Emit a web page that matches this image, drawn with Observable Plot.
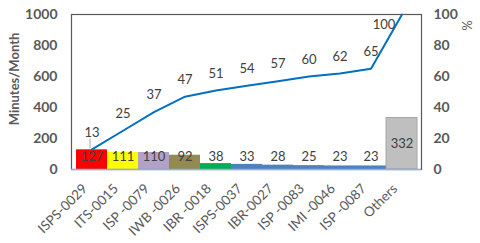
<!DOCTYPE html>
<html><head><meta charset="utf-8">
<script src="https://cdn.jsdelivr.net/npm/d3@7"></script>
<script src="https://cdn.jsdelivr.net/npm/@observablehq/plot@0.6"></script>
<style>body{margin:0;background:#fff}</style>
</head><body><div id="chart"></div>
<script>
const categories = ["ISPS-0029","ITS-0015","ISP -0079","IWB -0026","IBR -0018","ISPS-0037","IBR-0027","ISP -0083","IMI -0046","ISP -0087","Others"];
const minutes = [127,111,110,92,38,33,28,25,23,23,332];
const cumPercent = [13,25,37,47,51,54,57,60,62,65,100];
const barColors = ["#ff0000","#ffff00","#b3a2c7","#938953","#00b050","#4f81bd","#4f81bd","#4f81bd","#4f81bd","#4f81bd","#bfbfbf"];
const leftTicks = [0,200,400,600,800,1000];
const rightTicks = [0,20,40,60,80,100];

const data = categories.map((c,i)=>({c, v:minutes[i], p:cumPercent[i], color:barColors[i], i}));
const font = "Lato, 'Open Sans', sans-serif";

const chart = Plot.plot({
  width: 480, height: 243,
  marginTop: 14, marginBottom: 74, marginLeft: 71, marginRight: 59,
  style: {fontFamily: font, background: "#fff"},
  x: {domain: categories, padding: 0},
  y: {domain: [0,1000]},
  marks: [
    Plot.barY(data, {x:"c", y:"v", fill:"color", stroke: d => d.c === "Others" ? "#a6a6a6" : "none", strokeWidth: 1}),
    Plot.frame({stroke:"#595959", strokeWidth:1.2}),
    Plot.ruleY([0], {stroke:"#8eb4e3", strokeWidth:1.5}),
    Plot.lineY(data, {x:"c", y: d => d.p*10, stroke:"#0070c0", strokeWidth:2}),
    Plot.link(data.filter(d=>d.i===0), {x1:"c", x2:"c", y1: d=>d.p*10+8, y2: d=>d.p*10+70, dx:-2, stroke:"#a6a6a6", strokeWidth:1}),
    Plot.text(data.filter(d=>d.p<100), {x:"c", y: d=>d.p*10, text: d=>String(d.p), dy:-17, fill:"#404040", fontSize:13, lineAnchor:"middle", fontFamily: font}),
    Plot.text(data.filter(d=>d.p===100), {x:"c", y: d=>d.p*10, text: d=>String(d.p), dx:-18, dy:10, fill:"#404040", fontSize:13, lineAnchor:"middle", fontFamily: font}),
    Plot.text(data, {x:"c", y: d => d.v > 200 ? d.v/2 : 84, text: d=>String(d.v), fill:"#404040", fontSize:13, fontFamily: font}),
    Plot.axisY(leftTicks, {anchor:"left", tickSize:0, tickPadding:14, tickFormat: d=>String(d), fontSize:14, fontWeight:"bold", fill:"#595959", label:null}),
    Plot.axisY(rightTicks.map(t=>t*10), {anchor:"right", tickSize:0, tickPadding:12, tickFormat: d=>String(d/10), fontSize:14, fontWeight:"bold", fill:"#595959", textAnchor:"start", label:null}),
    Plot.axisX({tickRotate:-45, tickSize:0, tickPadding:12, dx:-7, dy:5, fontSize:13.5, fill:"#595959", label:null}),
    Plot.text(["Minutes/Month"], {frameAnchor:"left", dx:-57, dy:-13, rotate:-90, textAnchor:"middle", lineAnchor:"middle", fontSize:13, fontWeight:"bold", fill:"#595959", fontFamily: font}),
    Plot.text(["%"], {frameAnchor:"top-right", dx:45, dy:11, rotate:90, textAnchor:"middle", lineAnchor:"middle", fontSize:13, fill:"#595959", fontFamily: font})
  ]
});
document.getElementById("chart").append(chart);
</script>
</body></html>
